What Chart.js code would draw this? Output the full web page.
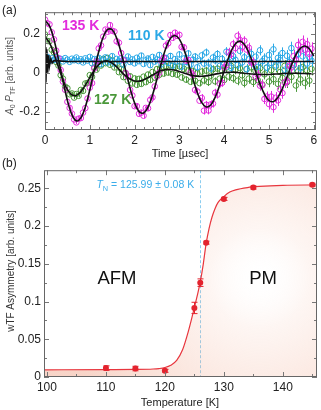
<!DOCTYPE html>
<html>
<head>
<meta charset="utf-8">
<script src="https://cdn.jsdelivr.net/npm/chart.js@4/dist/chart.umd.min.js"></script>
<style>
  body { margin: 0; background: #fff; width: 321px; height: 410px; position: relative; overflow: hidden;
         font-family: "Liberation Sans", Arial, sans-serif; }
  canvas { position: absolute; left: 0; }
  #ca { top: 0; }
  #cb { top: 160px; }
  .tag { position: absolute; left: 2px; font-size: 12px; color: #222; line-height: 14px; }
</style>
</head>
<body>
<canvas id="ca" width="321" height="160"></canvas>
<canvas id="cb" width="321" height="250"></canvas>
<div class="tag" style="top:3px">(a)</div>
<div class="tag" style="top:156px">(b)</div>
<script>
// ---- panel (a): time spectra, asymmetry vs time [µs]
const timeA = [
  0, 0.05, 0.1, 0.15, 0.2, 0.25, 0.3, 0.35, 0.4, 0.45,
  0.5, 0.55, 0.6, 0.65, 0.7, 0.75, 0.8, 0.85, 0.9, 0.95,
  1, 1.05, 1.1, 1.15, 1.2, 1.25, 1.3, 1.35, 1.4, 1.45,
  1.5, 1.55, 1.6, 1.65, 1.7, 1.75, 1.8, 1.85, 1.9, 1.95,
  2, 2.05, 2.1, 2.15, 2.2, 2.25, 2.3, 2.35, 2.4, 2.45,
  2.5, 2.55, 2.6, 2.65, 2.7, 2.75, 2.8, 2.85, 2.9, 2.95,
  3, 3.05, 3.1, 3.15, 3.2, 3.25, 3.3, 3.35, 3.4, 3.45,
  3.5, 3.55, 3.6, 3.65, 3.7, 3.75, 3.8, 3.85, 3.9, 3.95,
  4, 4.05, 4.1, 4.15, 4.2, 4.25, 4.3, 4.35, 4.4, 4.45,
  4.5, 4.55, 4.6, 4.65, 4.7, 4.75, 4.8, 4.85, 4.9, 4.95,
  5, 5.05, 5.1, 5.15, 5.2, 5.25, 5.3, 5.35, 5.4, 5.45,
  5.5, 5.55, 5.6, 5.65, 5.7, 5.75, 5.8, 5.85, 5.9, 5.95
];
const asym135 = [
  0.272, 0.254, 0.248, 0.207, 0.171, 0.113, 0.075, 0.014, -0.045, -0.087,
  -0.149, -0.180, -0.209, -0.239, -0.254, -0.235, -0.232, -0.204, -0.181, -0.132,
  -0.076, -0.053, 0.022, 0.058, 0.125, 0.140, 0.185, 0.221, 0.210, 0.244,
  0.215, 0.211, 0.161, 0.154, 0.101, 0.065, -0.001, -0.020, -0.088, -0.116,
  -0.171, -0.171, -0.210, -0.204, -0.220, -0.180, -0.182, -0.139, -0.126, -0.070,
  -0.019, 0.001, 0.060, 0.077, 0.139, 0.151, 0.193, 0.179, 0.205, 0.189,
  0.194, 0.132, 0.130, 0.062, 0.065, 0.003, -0.010, -0.088, -0.096, -0.143,
  -0.129, -0.194, -0.164, -0.193, -0.162, -0.158, -0.102, -0.112, -0.055, -0.052,
  0.027, 0.039, 0.105, 0.095, 0.146, 0.126, 0.189, 0.168, 0.130, 0.164,
  0.119, 0.128, 0.054, 0.053, -0.020, -0.011, -0.066, -0.064, -0.134, -0.122,
  -0.160, -0.122, -0.176, -0.128, -0.141, -0.085, -0.104, -0.049, -0.043, 0.036,
  0.027, 0.085, 0.066, 0.142, 0.118, 0.158, 0.118, 0.146, 0.097, 0.123
];
const asym110 = [
  0.095, 0.082, 0.060, 0.074, 0.066, 0.079, 0.063, 0.071, 0.058, 0.075,
  0.067, 0.056, 0.072, 0.064, 0.078, 0.060, 0.069, 0.053, 0.074, 0.062,
  0.081, 0.049, 0.070, 0.058, 0.076, 0.044, 0.067, 0.079, 0.052, 0.063,
  0.085, 0.047, 0.071, 0.060, 0.074, 0.041, 0.066, 0.083, 0.055, 0.069,
  0.048, 0.077, 0.059, 0.088, 0.045, 0.064, 0.073, 0.039, 0.081, 0.057,
  0.068, 0.091, 0.043, 0.062, 0.076, 0.050, 0.086, 0.036, 0.070, 0.058,
  0.094, 0.031, 0.073, 0.055, 0.099, 0.042, 0.067, 0.083, 0.028, 0.061,
  0.089, 0.047, 0.104, 0.052, 0.021, 0.078, 0.063, 0.096, 0.035, 0.071,
  0.049, 0.108, 0.057, 0.025, 0.085, 0.066, 0.040, 0.112, 0.053, 0.079,
  0.018, 0.069, 0.097, 0.044, 0.082, 0.030, 0.115, 0.059, 0.073, 0.026,
  0.091, 0.050, 0.120, 0.038, 0.076, 0.064, 0.101, 0.015, 0.087, 0.055,
  0.126, 0.041, 0.070, 0.096, 0.023, 0.084, 0.118, 0.047, 0.079, 0.062
];
const asym127 = [
  0.196, 0.163, 0.161, 0.118, 0.104, 0.055, 0.037, -0.012, -0.030, -0.071,
  -0.079, -0.110, -0.106, -0.127, -0.109, -0.118, -0.088, -0.093, -0.055, -0.052,
  -0.012, -0.021, 0.027, 0.016, 0.058, 0.037, 0.071, 0.049, 0.076, 0.041,
  0.064, 0.027, 0.045, 0.003, 0.019, -0.022, -0.004, -0.041, -0.018, -0.055,
  -0.029, -0.062, -0.031, -0.057, -0.020, -0.048, -0.009, -0.037, 0.004, -0.025,
  0.019, -0.011, 0.030, -0.004, 0.034, 0.001, 0.038, -0.006, 0.029, -0.010,
  0.033, -0.024, 0.020, -0.035, 0.012, -0.046, 0.009, -0.041, -0.002, -0.053,
  0.006, -0.039, 0.011, -0.048, -0.015, 0.018, -0.044, 0.021, -0.030, 0.012,
  -0.037, 0.027, -0.019, 0.036, -0.028, 0.015, -0.041, 0.024, -0.013, -0.052,
  0.019, -0.030, 0.028, -0.047, 0.010, -0.038, 0.023, -0.060, -0.008, 0.026,
  -0.045, 0.013, -0.033, 0.031, -0.057, 0.004, -0.026, 0.035, -0.049, 0.016,
  -0.021, 0.038, -0.065, 0.007, -0.034, 0.029, -0.052, 0.012, -0.040, 0.020
];
// error bar size per 0.5 µs block
const errPerHalfUs = [0.006, 0.008, 0.010, 0.011, 0.013, 0.015, 0.017, 0.020, 0.023, 0.026, 0.029, 0.033];

// fit curves (black lines)
const fitTime = [
  0, 0.1, 0.2, 0.3, 0.4, 0.5, 0.6, 0.7, 0.8, 0.9,
  1, 1.1, 1.2, 1.3, 1.4, 1.5, 1.6, 1.7, 1.8, 1.9,
  2, 2.1, 2.2, 2.3, 2.4, 2.5, 2.6, 2.7, 2.8, 2.9,
  3, 3.1, 3.2, 3.3, 3.4, 3.5, 3.6, 3.7, 3.8, 3.9,
  4, 4.1, 4.2, 4.3, 4.4, 4.5, 4.6, 4.7, 4.8, 4.9,
  5, 5.1, 5.2, 5.3, 5.4, 5.5, 5.6, 5.7, 5.8, 5.9,
  6
];
const fit135 = [
  0.268, 0.240, 0.170, 0.069, -0.041, -0.142, -0.214, -0.246, -0.231, -0.175,
  -0.088, 0.013, 0.109, 0.183, 0.222, 0.220, 0.177, 0.103, 0.012, -0.080,
  -0.154, -0.199, -0.206, -0.176, -0.114, -0.032, 0.053, 0.127, 0.176, 0.191,
  0.172, 0.121, 0.049, -0.030, -0.101, -0.153, -0.175, -0.165, -0.125, -0.063,
  0.009, 0.078, 0.131, 0.159, 0.157, 0.127, 0.074, 0.008, -0.057, -0.110,
  -0.142, -0.147, -0.126, -0.081, -0.023, 0.038, 0.091, 0.125, 0.137, 0.123,
  0.086
];
const fit127 = [
  0.185, 0.154, 0.097, 0.029, -0.036, -0.086, -0.113, -0.116, -0.097, -0.064,
  -0.025, 0.013, 0.042, 0.058, 0.060, 0.049, 0.030, 0.006, -0.016, -0.032,
  -0.042, -0.043, -0.036, -0.025, -0.012, 0.001, 0.011, 0.016, 0.017, 0.013,
  0.007, -0.001, -0.009, -0.014, -0.018, -0.018, -0.016, -0.012, -0.007, -0.003,
  0.001, 0.002, 0.003, 0.001, -0.001, -0.004, -0.006, -0.008, -0.009, -0.009,
  -0.009, -0.007, -0.006, -0.004, -0.003, -0.003, -0.002, -0.003, -0.004, -0.005,
  -0.005
];
const fit110Time = [0, 0.02, 0.04, 0.06, 0.08, 0.1, 0.13, 0.16, 0.2, 0.5, 1, 2, 3, 4, 5, 6];
const fit110 = [0.13, -0.05, 0.12, 0.0, 0.09, 0.035, 0.072, 0.05, 0.062, 0.058, 0.058, 0.058, 0.058, 0.058, 0.058, 0.058];

// ---- panel (b): wTF asymmetry vs temperature
const temps = [110, 115, 120, 125, 126, 127, 130, 135, 145];
const asymT = [0.0118, 0.0112, 0.0082, 0.0915, 0.125, 0.178, 0.236, 0.251, 0.2547];
const asymTErr = [0.003, 0.003, 0.002, 0.0075, 0.005, 0.002, 0.002, 0.002, 0.002];
const fitTemps = [99.5, 110, 115, 118, 119, 120, 121, 122, 123, 124, 124.5, 125, 125.5, 126, 126.5,
                  127, 127.5, 128, 128.5, 129, 130, 131, 132, 134, 136, 140, 146];
const fitAsymT = [0.0095, 0.0098, 0.0100, 0.0106, 0.0112, 0.0125, 0.0155, 0.022, 0.036, 0.061, 0.076,
                  0.092, 0.108, 0.126, 0.149, 0.177, 0.197, 0.212, 0.223, 0.231, 0.239, 0.245, 0.248,
                  0.251, 0.2525, 0.254, 0.2545];
const tN = 125.99;
const tNErr = 0.08;

const FONT = '"Liberation Sans", Arial, sans-serif';
const MAGENTA = '#e22bdc';
const BLUE = '#2aa8e6';
const GREEN = '#4a983a';
const RED = '#e3232e';

function xy(xs, ys) {
  return xs.map((x, i) => ({ x: x, y: ys[i] }));
}

function drawRich(ctx, parts, x, y, size, align) {
  const fontOf = p => (p.italic ? 'italic ' : '') + (p.bold ? 'bold ' : '') + (p.sub ? size * 0.7 : size) + 'px ' + FONT;
  let total = 0;
  parts.forEach(p => { ctx.font = fontOf(p); p.w = ctx.measureText(p.t).width; total += p.w; });
  let cx = align === 'center' ? x - total / 2 : align === 'right' ? x - total : x;
  ctx.textAlign = 'left';
  ctx.textBaseline = 'alphabetic';
  parts.forEach(p => {
    ctx.font = fontOf(p);
    ctx.fillText(p.t, cx, y + (p.sub ? size * 0.25 : 0));
    cx += p.w;
  });
}

function drawVertical(ctx, parts, x, y, size) {
  ctx.save();
  ctx.translate(x, y);
  ctx.rotate(-Math.PI / 2);
  drawRich(ctx, parts, 0, size * 0.35, size, 'center');
  ctx.restore();
}

// inward ticks on all four sides + frame
const boxTicks = {
  id: 'boxTicks',
  afterDatasetsDraw(chart, args, opts) {
    const { ctx, chartArea: a, scales } = chart;
    ctx.save();
    ctx.strokeStyle = '#777';
    ctx.lineWidth = 1;
    const drawSet = (scale, minor, major, isX) => {
      const k0 = Math.ceil(scale.min / minor - 1e-6);
      const k1 = Math.floor(scale.max / minor + 1e-6);
      for (let k = k0; k <= k1; k++) {
        const v = k * minor;
        const len = Math.abs(v / major - Math.round(v / major)) < 1e-6 ? 5 : 3;
        const p = Math.round(scale.getPixelForValue(v)) + 0.5;
        ctx.beginPath();
        if (isX) {
          ctx.moveTo(p, a.bottom); ctx.lineTo(p, a.bottom - len);
          ctx.moveTo(p, a.top); ctx.lineTo(p, a.top + len);
        } else {
          ctx.moveTo(a.left, p); ctx.lineTo(a.left + len, p);
          ctx.moveTo(a.right, p); ctx.lineTo(a.right - len, p);
        }
        ctx.stroke();
      }
    };
    drawSet(scales.x, opts.x[0], opts.x[1], true);
    drawSet(scales.y, opts.y[0], opts.y[1], false);
    ctx.strokeStyle = '#666';
    ctx.strokeRect(a.left + 0.5, a.top + 0.5, a.right - a.left - 1, a.bottom - a.top - 1);
    ctx.restore();
  }
};

// vertical error bars, drawn just before each dataset's points
const errorBars = {
  id: 'errorBars',
  beforeDatasetDraw(chart, args) {
    const ds = chart.data.datasets[args.index];
    if (!ds.errors) return;
    const { ctx, chartArea: a } = chart;
    const y = chart.scales.y;
    ctx.save();
    ctx.beginPath();
    ctx.rect(a.left, a.top, a.right - a.left, a.bottom - a.top);
    ctx.clip();
    ctx.strokeStyle = ds.borderColor;
    ctx.lineWidth = 1;
    args.meta.data.forEach((pt, i) => {
      const v = ds.data[i].y, e = ds.errors[i];
      const y1 = y.getPixelForValue(v - e), y2 = y.getPixelForValue(v + e);
      const x = Math.round(pt.x) + 0.5;
      const c = ds.capWidth || 0;
      ctx.beginPath();
      ctx.moveTo(x, y1); ctx.lineTo(x, y2);
      if (c) {
        ctx.moveTo(x - c, y1); ctx.lineTo(x + c, y1);
        ctx.moveTo(x - c, y2); ctx.lineTo(x + c, y2);
      }
      ctx.stroke();
    });
    ctx.restore();
  }
};

Chart.register(boxTicks, errorBars);

const noGrid = { display: false, drawTicks: false, tickLength: 0 };

// ---------- panel (a)
const errA = timeA.map(t => errPerHalfUs[Math.min(errPerHalfUs.length - 1, Math.floor(t / 0.5))]);

function fitLine(xs, ys, tension) {
  return { data: xy(xs, ys), borderColor: '#111', borderWidth: 1.6, pointRadius: 0, tension: tension, fill: false };
}
function points(ys, color) {
  return {
    data: xy(timeA, ys), errors: errA, showLine: false,
    borderColor: color, pointBorderColor: color, pointBackgroundColor: 'rgba(0,0,0,0)',
    pointRadius: 2.8, pointBorderWidth: 1
  };
}

const panelA = {
  id: 'panelA',
  afterDraw(chart) {
    const ctx = chart.ctx;
    ctx.save();
    ctx.fillStyle = MAGENTA;
    drawRich(ctx, [{ t: '135 K', bold: true }], 62, 30, 14, 'left');
    ctx.fillStyle = BLUE;
    drawRich(ctx, [{ t: '110 K', bold: true }], 128, 40, 14, 'left');
    ctx.fillStyle = GREEN;
    drawRich(ctx, [{ t: '127 K', bold: true }], 94, 104, 14, 'left');
    ctx.fillStyle = '#222';
    drawRich(ctx, [{ t: 'Time [µsec]' }], 180, 157, 11, 'center');
    ctx.fillStyle = '#555';
    drawVertical(ctx, [{ t: 'A', italic: true }, { t: '0', sub: true }, { t: ' ' }, { t: 'P', italic: true },
      { t: 'TF', sub: true }, { t: ' [arb. units]' }], 9, 76, 10);
    ctx.restore();
  }
};

new Chart(document.getElementById('ca'), {
  type: 'line',
  data: {
    datasets: [
      fitLine(fitTime, fit135, 0.35),
      fitLine(fitTime, fit127, 0.35),
      fitLine(fit110Time, fit110, 0),
      points(asym135, MAGENTA),
      points(asym110, BLUE),
      points(asym127, GREEN)
    ]
  },
  options: {
    responsive: false,
    animation: false,
    devicePixelRatio: 1,
    layout: { padding: { top: 5, right: 3, left: 0, bottom: 0 } },
    plugins: {
      legend: { display: false },
      tooltip: { enabled: false },
      boxTicks: { x: [0.2, 1], y: [0.05, 0.2] }
    },
    scales: {
      x: {
        type: 'linear', min: 0, max: 6.05,
        grid: noGrid, border: { display: false },
        ticks: { stepSize: 1, includeBounds: false, autoSkip: false, maxRotation: 0, padding: 3,
                 color: '#222', font: { family: FONT, size: 12 }, callback: v => String(+v.toFixed(2)) },
        afterFit: s => { s.height = 30; }
      },
      y: {
        type: 'linear', min: -0.293, max: 0.31,
        grid: noGrid, border: { display: false },
        ticks: { stepSize: 0.2, includeBounds: false, autoSkip: false, padding: 5,
                 color: '#222', font: { family: FONT, size: 12 }, callback: v => String(+v.toFixed(2)) },
        afterFit: s => { s.width = 45; }
      }
    }
  },
  plugins: [panelA]
});

// ---------- panel (b)
function peachFill(context) {
  const chart = context.chart;
  const a = chart.chartArea;
  if (!a) return 'rgba(0,0,0,0)';
  const cx = a.left + (a.right - a.left) * 0.79;
  const cy = a.top + (a.bottom - a.top) * 0.52;
  const g = chart.ctx.createRadialGradient(cx, cy, 0, cx, cy, 200);
  g.addColorStop(0, 'rgba(255,255,255,0)');
  g.addColorStop(0.25, 'rgba(244,180,155,0.12)');
  g.addColorStop(1, 'rgba(240,170,145,0.5)');
  return g;
}

const panelB = {
  id: 'panelB',
  beforeDatasetsDraw(chart) {
    const { ctx, chartArea: a } = chart;
    const x = Math.round(chart.scales.x.getPixelForValue(tN)) + 0.5;
    ctx.save();
    ctx.strokeStyle = '#8ccdef';
    ctx.lineWidth = 1;
    ctx.setLineDash([3, 2]);
    ctx.beginPath();
    ctx.moveTo(x, a.top);
    ctx.lineTo(x, a.bottom);
    ctx.stroke();
    ctx.restore();
  },
  afterDraw(chart) {
    const { ctx } = chart;
    const x = chart.scales.x.getPixelForValue(tN);
    ctx.save();
    ctx.fillStyle = '#3badea';
    drawRich(ctx, [{ t: 'T', italic: true }, { t: 'N', sub: true },
      { t: ' = ' + tN.toFixed(2) + ' ± ' + tNErr.toFixed(2) + ' K' }], x - 6, 28, 10.5, 'right');
    ctx.fillStyle = '#111';
    drawRich(ctx, [{ t: 'AFM' }], 117, 124, 18.5, 'center');
    drawRich(ctx, [{ t: 'PM' }], 263, 124, 18.5, 'center');
    ctx.fillStyle = '#222';
    drawRich(ctx, [{ t: 'Temperature [K]' }], 180, 246, 11, 'center');
    ctx.fillStyle = '#333';
    drawVertical(ctx, [{ t: 'wTF Asymmetry [arb. units]' }], 10, 111, 10);
    ctx.restore();
  }
};

new Chart(document.getElementById('cb'), {
  type: 'line',
  data: {
    datasets: [
      {
        data: xy(temps, asymT), errors: asymTErr, capWidth: 3, showLine: false,
        borderColor: RED, pointBorderColor: RED, pointBackgroundColor: RED,
        pointRadius: 3, pointBorderWidth: 0
      },
      {
        data: xy(fitTemps, fitAsymT), borderColor: '#e8363e', borderWidth: 1.2, pointRadius: 0,
        cubicInterpolationMode: 'monotone', fill: 'origin', backgroundColor: peachFill
      }
    ]
  },
  options: {
    responsive: false,
    animation: false,
    devicePixelRatio: 1,
    layout: { padding: { top: 5, right: 2, left: 0, bottom: 0 } },
    plugins: {
      legend: { display: false },
      tooltip: { enabled: false },
      boxTicks: { x: [5, 10], y: [0.025, 0.05] }
    },
    scales: {
      x: {
        type: 'linear', min: 99.5, max: 145.8,
        grid: noGrid, border: { display: false },
        ticks: { stepSize: 10, includeBounds: false, autoSkip: false, maxRotation: 0, padding: 3,
                 color: '#222', font: { family: FONT, size: 12 }, callback: v => String(+v.toFixed(1)) },
        afterFit: s => { s.height = 33; }
      },
      y: {
        type: 'linear', min: 0, max: 0.274,
        grid: noGrid, border: { display: false },
        ticks: { stepSize: 0.05, includeBounds: false, autoSkip: false, padding: 3,
                 color: '#222', font: { family: FONT, size: 12 }, callback: v => String(+v.toFixed(2)) },
        afterFit: s => { s.width = 44; }
      }
    }
  },
  plugins: [panelB]
});
</script>
</body>
</html>
